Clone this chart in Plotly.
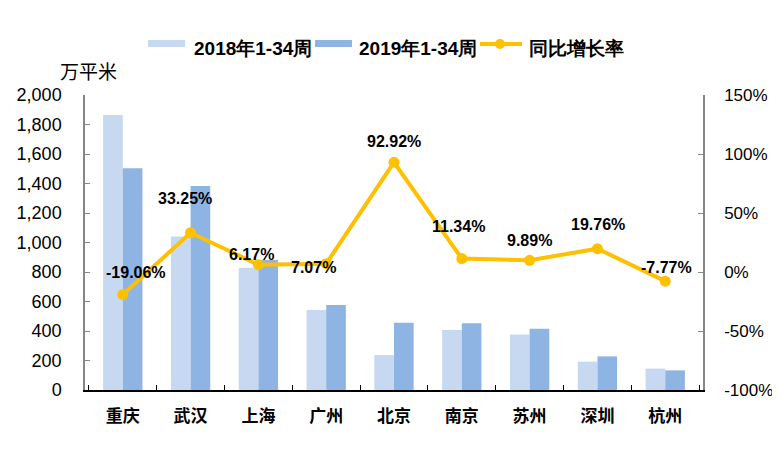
import plotly.graph_objects as go

cities = ["重庆", "武汉", "上海", "广州", "北京", "南京", "苏州", "深圳", "杭州"]
area_2018 = [1864, 1040, 829, 542, 237, 407, 377, 192, 145]
area_2019 = [1503, 1383, 881, 576, 456, 452, 416, 228, 133]
growth = [-19.06, 33.25, 6.17, 7.07, 92.92, 11.34, 9.89, 19.76, -7.77]
pct_ticks = [-100, -50, 0, 50, 100, 150]

# label nudges in px (x, y) so the % labels sit where the original has them
label_shift = [(13, 22), (-6, 34), (-7, 10), (-13, -4), (0, 21),
               (-3, 32), (0, 20), (1, 24), (1, 14)]

C_2018 = "#c6d9f1"
C_2019 = "#8eb4e3"
C_LINE = "#ffc000"
AX_GREY = "#868686"
NUM_FONT = "Arial, Liberation Sans, sans-serif"
CJK_FONT = "Noto Sans CJK SC, sans-serif"

# the page body adds an 8px margin, so the figure is drawn 8px smaller
PAD = 8
W, H = 780 - PAD, 456 - PAD
L, R, T, B = 85, 77, 95, 66      # plot box in page pixels
PW, PH = 780 - L - R, 456 - T - B


def px(x):
  return (x - L) / PW


def py(y):
  return (456 - B - y) / PH


fig = go.Figure()
fig.add_trace(go.Bar(x=cities, y=area_2018, name="2018年1-34周",
                     marker=dict(color=C_2018, line=dict(width=0))))
fig.add_trace(go.Bar(x=cities, y=area_2019, name="2019年1-34周",
                     marker=dict(color=C_2019, line=dict(width=0))))
fig.add_trace(go.Scatter(x=cities, y=growth, name="同比增长率", yaxis="y2",
                         mode="lines+markers",
                         line=dict(color=C_LINE, width=4),
                         marker=dict(color=C_LINE, size=11)))

annotations = []
for city, g, (dx, dy) in zip(cities, growth, label_shift):
  annotations.append(dict(x=city, y=g, xref="x", yref="y2",
                          text=f"{g:.2f}%", showarrow=False,
                          xshift=dx, yshift=dy,
                          font=dict(family=NUM_FONT, size=16, color="black",
                                    weight="bold")))

annotations.append(dict(x=px(88), y=py(71), xref="paper", yref="paper",
                        xanchor="center", yanchor="middle",
                        text="万平米", showarrow=False,
                        font=dict(family=CJK_FONT, size=19, color="black")))

# hand-made legend to get the wide flat swatches of the original
legend_txt = [("2018年1-34周", 192), ("2019年1-34周", 357), ("同比增长率", 527)]
for txt, x0 in legend_txt:
  annotations.append(dict(x=px(x0), y=py(48), xref="paper", yref="paper",
                          xanchor="left", yanchor="middle",
                          text=txt, showarrow=False,
                          font=dict(family=NUM_FONT, size=19, color="black",
                                    weight="bold")))

shapes = [
    dict(type="rect", xref="paper", yref="paper", x0=px(148), x1=px(185),
         y0=py(47), y1=py(40), fillcolor=C_2018, line=dict(width=0)),
    dict(type="rect", xref="paper", yref="paper", x0=px(315), x1=px(352),
         y0=py(47), y1=py(40), fillcolor=C_2019, line=dict(width=0)),
    dict(type="line", xref="paper", yref="paper", x0=px(480), x1=px(522),
         y0=py(44), y1=py(44), line=dict(color=C_LINE, width=4)),
    dict(type="circle", xref="paper", yref="paper", x0=px(495), x1=px(505),
         y0=py(49), y1=py(39), fillcolor=C_LINE, line=dict(width=0)),
]

fig.update_layout(
    width=W, height=H,
    margin=dict(l=L - PAD, r=R, t=T - PAD, b=B, autoexpand=False),
    plot_bgcolor="white", paper_bgcolor="white",
    showlegend=False,
    barmode="group", bargap=0.42, bargroupgap=0,
    annotations=annotations, shapes=shapes,
    xaxis=dict(showline=True, linecolor="black", linewidth=1.5,
               ticks="inside", ticklen=5, tickcolor="black",
               tickson="boundaries", showgrid=False, automargin=False,
               ticklabelstandoff=10,
               tickfont=dict(family=CJK_FONT, size=17, color="black",
                             weight="bold")),
    yaxis=dict(range=[0, 2000], dtick=200, tickformat=",",
               showline=True, linecolor=AX_GREY, linewidth=1.5,
               ticks="inside", ticklen=5, tickcolor=AX_GREY, automargin=False,
               showgrid=False, zeroline=False, ticklabelstandoff=18,
               tickfont=dict(family=NUM_FONT, size=18, color="black")),
    yaxis2=dict(range=[-100, 150], tickvals=pct_ticks,
                ticktext=[f"{v}%" for v in pct_ticks],
                overlaying="y", side="right", automargin=False,
                showline=True, linecolor=AX_GREY, linewidth=1.5,
                ticks="inside", ticklen=5, tickcolor=AX_GREY,
                showgrid=False, zeroline=False, ticklabelstandoff=16,
                tickfont=dict(family=NUM_FONT, size=17, color="black")),
)

fig.write_html("out.html")
